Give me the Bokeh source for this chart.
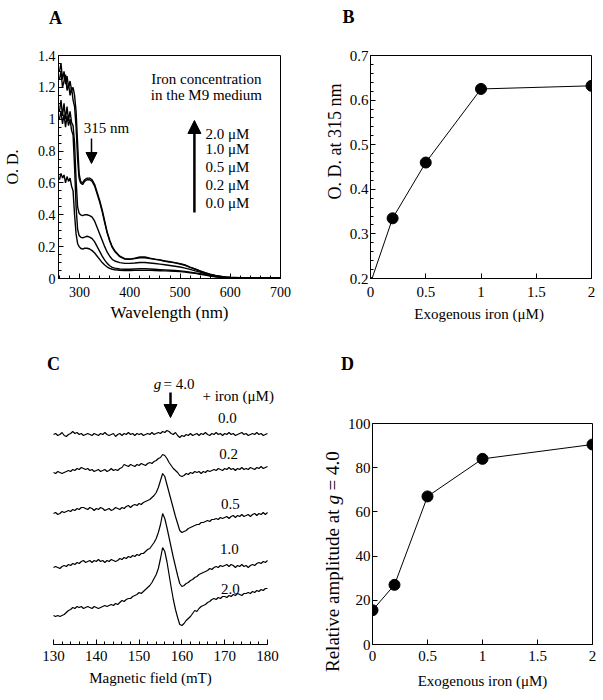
import math
from bokeh.plotting import figure
from bokeh.layouts import row, column
from bokeh.models import Range1d, FixedTicker, CustomJSTickFormatter, Label, Arrow, NormalHead
from bokeh.embed import file_html
from bokeh.resources import INLINE

# ---------------- Panel A: absorption spectra ----------------
WAVELENGTH = [260, 263, 266, 269, 272, 275, 278, 281, 284, 287, 290, 293, 296, 299, 302,
              306, 310,
              315, 320, 325, 330, 335, 340, 345, 350, 355, 360, 365, 370,
              380, 390, 400, 410, 420, 430, 440, 450, 460, 470, 480, 490, 500, 510, 520,
              530, 540, 550, 560, 570, 580, 590, 600,
              620, 640, 660, 680, 700]
OD_2_0 = [1.30, 1.35, 1.25, 1.30, 1.22, 1.27, 1.20, 1.24, 1.18, 1.20, 1.15, 1.05, 0.85, 0.66, 0.61,
          0.60, 0.62,
          0.63, 0.63, 0.62, 0.59, 0.54, 0.49, 0.43, 0.36, 0.29, 0.24, 0.20, 0.175,
          0.14, 0.125, 0.122, 0.128, 0.135, 0.135, 0.128, 0.122, 0.117, 0.11, 0.105, 0.10, 0.093, 0.085, 0.072,
          0.06, 0.048, 0.036, 0.027, 0.02, 0.014, 0.01, 0.008,
          0.005, 0.004, 0.003, 0.003, 0.004]
OD_1_0 = [1.25, 1.30, 1.20, 1.24, 1.28, 1.18, 1.22, 1.15, 1.20, 1.12, 1.08, 0.95, 0.75, 0.63, 0.60,
          0.59, 0.61,
          0.62, 0.62, 0.61, 0.58, 0.53, 0.48, 0.42, 0.35, 0.285, 0.235, 0.195, 0.17,
          0.137, 0.122, 0.12, 0.125, 0.13, 0.13, 0.125, 0.12, 0.115, 0.108, 0.103, 0.098, 0.091, 0.083, 0.07,
          0.058, 0.046, 0.035, 0.026, 0.019, 0.013, 0.01, 0.007,
          0.005, 0.004, 0.003, 0.003, 0.003]
OD_0_5 = [1.05, 1.12, 1.02, 1.10, 1.00, 1.08, 0.99, 1.05, 0.98, 0.96, 0.85, 0.62, 0.45, 0.41, 0.40,
          0.395, 0.40,
          0.40, 0.395, 0.385, 0.36, 0.32, 0.28, 0.24, 0.20, 0.165, 0.14, 0.12, 0.11,
          0.10, 0.095, 0.095, 0.097, 0.10, 0.10, 0.097, 0.094, 0.09, 0.086, 0.082, 0.077, 0.072, 0.065, 0.057,
          0.048, 0.04, 0.03, 0.022, 0.015, 0.01, 0.007, 0.005,
          0.004, 0.003, 0.003, 0.003, 0.003]
OD_0_2 = [1.00, 1.05, 0.97, 1.03, 0.95, 1.02, 0.96, 1.00, 0.93, 0.90, 0.70, 0.45, 0.31, 0.27, 0.26,
          0.255, 0.26,
          0.265, 0.26, 0.25, 0.23, 0.20, 0.17, 0.14, 0.115, 0.095, 0.08, 0.07, 0.065,
          0.06, 0.058, 0.058, 0.06, 0.062, 0.062, 0.06, 0.058, 0.056, 0.054, 0.052, 0.05, 0.048, 0.045, 0.04,
          0.035, 0.03, 0.024, 0.018, 0.012, 0.008, 0.006, 0.005,
          0.004, 0.003, 0.003, 0.003, 0.003]
OD_0_0 = [0.62, 0.66, 0.63, 0.65, 0.60, 0.64, 0.61, 0.63, 0.58, 0.55, 0.40, 0.28, 0.22, 0.20, 0.19,
          0.185, 0.19,
          0.19, 0.185, 0.175, 0.16, 0.14, 0.12, 0.10, 0.085, 0.072, 0.064, 0.058, 0.055,
          0.052, 0.05, 0.05, 0.051, 0.052, 0.052, 0.051, 0.05, 0.049, 0.048, 0.046, 0.045, 0.043, 0.04, 0.036,
          0.032, 0.027, 0.021, 0.015, 0.01, 0.007, 0.005, 0.004,
          0.003, 0.003, 0.003, 0.003, 0.003]
A_SERIES = [OD_0_0, OD_0_2, OD_0_5, OD_1_0, OD_2_0]
A_LEGEND = ["2.0 μM", "1.0 μM", "0.5 μM", "0.2 μM", "0.0 μM"]
A_X_TICKS = [300, 400, 500, 600, 700]
A_X_MINOR = [260, 280, 300, 320, 340, 360, 380, 400, 420, 440, 460, 480, 500, 520, 540, 560, 580,
             600, 620, 640, 660, 680, 700]
A_Y_TICKS = [0, 0.2, 0.4, 0.6, 0.8, 1.0, 1.2, 1.4]
A_Y_MINOR = [0.05, 0.1, 0.15, 0.25, 0.3, 0.35, 0.45, 0.5, 0.55, 0.65, 0.7, 0.75, 0.85, 0.9, 0.95,
             1.05, 1.1, 1.15, 1.25, 1.3, 1.35]

# ---------------- Panel B ----------------
IRON = [0, 0.2, 0.5, 1, 2]
OD_315 = [0.19, 0.335, 0.46, 0.625, 0.632]
B_X_TICKS = [0, 0.5, 1, 1.5, 2]
B_Y_TICKS = [0.2, 0.3, 0.4, 0.5, 0.6, 0.7]
B_Y_MINOR = [0.22, 0.24, 0.26, 0.28, 0.32, 0.34, 0.36, 0.38, 0.42, 0.44, 0.46, 0.48,
             0.52, 0.54, 0.56, 0.58, 0.62, 0.64, 0.66, 0.68]

# ---------------- Panel C: EPR spectra ----------------
FIELD = [130, 130.5, 131, 131.5, 132, 132.5, 133, 133.5, 134, 134.5,
         135, 135.5, 136, 136.5, 137, 137.5, 138, 138.5, 139, 139.5,
         140, 140.5, 141, 141.5, 142, 142.5, 143, 143.5, 144, 144.5,
         145, 145.5, 146, 146.5, 147, 147.5, 148, 148.5, 149, 149.5,
         150, 150.5, 151, 151.5, 152, 152.5, 153, 153.5, 154, 154.5,
         155, 155.5, 156, 156.5, 157, 157.5, 158, 158.5, 159, 159.5,
         160, 160.5, 161, 161.5, 162, 162.5, 163, 163.5, 164, 164.5,
         165, 165.5, 166, 166.5, 167, 167.5, 168, 168.5, 169, 169.5,
         170, 170.5, 171, 171.5, 172, 172.5, 173, 173.5, 174, 174.5,
         175, 175.5, 176, 176.5, 177, 177.5, 178, 178.5, 179, 179.5, 180]
EPR_0_0 = [0, 1, -1, 0, 2, -1, -2, 0, 1, 3,
           1, 2, 0, 1, -1, 0, 1, 0, -1, 1,
           0, -1, 1, 0, 2, 0, -1, 0, 1, -2,
           0, 1, -1, 1, 0, 2, 0, 1, -1, 1,
           0, 1, -1, 0, 1, 0, 2, 0, 1, 2,
           1, 3, 2, 4, 3, 1, 0, 2, -1, -3,
           -1, -2, 0, -1, 1, -1, 0, 1, -1, 1,
           0, 2, 0, -1, 1, 0, 2, 0, 1, -1,
           1, 0, 2, 0, 1, -1, 0, 1, 2, 0,
           1, -1, 0, 1, 0, 2, 0, 1, -1, 0, 1]
EPR_0_2 = [0, -1, 1, 0, -1, 0, 1, 2, 1, 3,
           2, 4, 3, 5, 4, 3, 4, 2, 3, 1,
           2, 3, 1, 2, 3, 1, 2, 4, 2, 3,
           2, 4, 5, 8, 7, 6, 8, 7, 6, 8,
           7, 9, 8, 7, 9, 10, 9, 11, 12, 14,
           15, 18, 17, 14, 10, 7, 4, 2, 0, -3,
           -4, -3, -1, -2, 0, -1, 1, 0, 1, -1,
           1, 0, 2, 1, 2, 3, 2, 4, 3, 2,
           4, 3, 5, 3, 4, 2, 4, 3, 5, 3,
           4, 3, 5, 4, 3, 5, 4, 6, 4, 5, 6]
EPR_0_5 = [0, 1, -1, 0, 2, 1, 2, 3, 2, 4,
           3, 5, 4, 6, 6, 5, 4, 6, 5, 3,
           5, 4, 6, 5, 3, 4, 5, 3, 4, 6,
           5, 4, 6, 5, 7, 8, 6, 8, 9, 8,
           10, 9, 11, 12, 13, 14, 16, 18, 21, 26,
           33, 40, 37, 29, 21, 13, 5, -3, -10, -17,
           -19, -18, -17, -15, -14, -13, -12, -11, -11, -9,
           -9, -8, -7, -8, -6, -6, -5, -6, -4, -5,
           -4, -3, -5, -3, -2, -4, -2, -3, -1, -3,
           -2, -1, -3, -1, 0, -2, 0, -1, 1, -1, 1]
EPR_1_0 = [0, 1, 0, -1, 1, 2, 1, 3, 2, 4,
           3, 5, 4, 6, 7, 5, 6, 7, 5, 7,
           6, 8, 6, 7, 5, 7, 6, 8, 7, 6,
           7, 9, 8, 10, 9, 11, 10, 12, 11, 13,
           12, 14, 14, 16, 18, 19, 22, 25, 29, 35,
           43, 54, 49, 40, 30, 20, 10, 1, -8, -16,
           -19, -18, -16, -15, -13, -12, -10, -9, -7, -6,
           -5, -4, -3, -1, -2, 0, 1, 0, 2, 1,
           2, 3, 1, 3, 2, 0, 2, 1, 3, 1,
           2, 0, 2, 3, 2, 4, 5, 4, 6, 5, 7]
EPR_2_0 = [0, -1, 0, -1, 0, 1, 3, 5, 6, 8,
           7, 9, 8, 9, 7, 8, 9, 8, 7, 9,
           8, 7, 8, 9, 10, 9, 10, 11, 10, 12,
           11, 13, 15, 14, 16, 17, 17, 19, 20, 21,
           23, 22, 24, 26, 28, 30, 33, 37, 41, 47,
           57, 68, 64, 54, 41, 28, 16, 6, -2, -9,
           -10, -8, -5, -3, -1, 2, 5, 4, 7, 9,
           10, 11, 13, 14, 16, 17, 16, 18, 17, 19,
           19, 18, 20, 19, 21, 20, 22, 21, 20, 22,
           22, 23, 22, 24, 23, 25, 24, 26, 25, 27, 27]
EPR_SERIES = [EPR_0_0, EPR_0_2, EPR_0_5, EPR_1_0, EPR_2_0]
EPR_LABELS = ["0.0", "0.2", "0.5", "1.0", "2.0"]
EPR_OFFSETS = [209, 171, 130, 76, 28]
C_X_TICKS = [130, 140, 150, 160, 170, 180]
C_X_MINOR = [130, 132, 134, 136, 138, 140, 142, 144, 146, 148, 150, 152, 154, 156, 158,
             160, 162, 164, 166, 168, 170, 172, 174, 176, 178, 180]

# ---------------- Panel D ----------------
AMPLITUDE = [15.5, 27, 67, 84, 90.5]
D_X_TICKS = [0, 0.5, 1, 1.5, 2]
D_Y_TICKS = [0, 20, 40, 60, 80, 100]

FONT = "Liberation Serif"
FMT_CODE = "return String(Math.round(tick*100)/100);"


def make_fig(w, h, xr, yr, ml, mr, mt, mb, outline=True, xaxis=True, yaxis=True):
    p = figure(width=w, height=h, x_range=Range1d(*xr), y_range=Range1d(*yr),
               output_backend="svg", toolbar_location=None, tools="",
               min_border_left=ml, min_border_right=mr, min_border_top=mt, min_border_bottom=mb,
               x_axis_location="below" if xaxis else None,
               y_axis_location="left" if yaxis else None)
    p.grid.visible = False
    p.background_fill_color = "white"
    p.border_fill_color = "white"
    if outline:
        p.outline_line_color = "black"
        p.outline_line_alpha = 1.0
        p.outline_line_width = 1
    else:
        p.outline_line_color = None
    return p


def text_strip(w, h, xr, yr, mt=0, mb=0):
    # text-only area (no axes); data coordinates equal pixel positions on the page
    return make_fig(w, h, xr, yr, 0, 0, mt, mb, outline=False, xaxis=False, yaxis=False)


def style_axis(ax, ticks, minor, size, label="", label_size="15px", standoff=6, label_standoff=6):
    ax.ticker = FixedTicker(ticks=ticks, minor_ticks=minor)
    ax.formatter = CustomJSTickFormatter(code=FMT_CODE)
    ax.axis_line_color = "black"
    ax.major_tick_in = 5
    ax.major_tick_out = 0
    ax.minor_tick_in = 3
    ax.minor_tick_out = 0
    ax.major_tick_line_color = "black"
    ax.minor_tick_line_color = "black"
    ax.major_label_text_font = FONT
    ax.major_label_text_font_size = size
    ax.major_label_text_color = "black"
    ax.major_label_standoff = standoff
    ax.axis_label = label
    ax.axis_label_text_font = FONT
    ax.axis_label_text_font_size = label_size
    ax.axis_label_text_font_style = "normal"
    ax.axis_label_text_color = "black"
    ax.axis_label_standoff = label_standoff


def add_text(p, x, y, text, size="15px", align="left", style="normal", angle=0.0):
    p.add_layout(Label(x=x, y=y, text=text, text_font=FONT,
                       text_font_size=size, text_font_style=style, text_align=align,
                       text_baseline="middle", text_color="black", angle=angle))


def add_arrow(p, x, y0, y1, width, head):
    p.add_layout(Arrow(end=NormalHead(size=head, fill_color="black", line_color="black", line_width=1),
                       x_start=x, y_start=y0, x_end=x, y_end=y1,
                       line_color="black", line_width=width))


# ---- top strip: panel letters A, B ----
sTop = text_strip(603, 40, (0, 603), (40, 0))
add_text(sTop, 55, 17, "A", "18px", "center", "bold")
add_text(sTop, 348, 16, "B", "18px", "center", "bold")

# ---- Panel A ----
pA = make_fig(300, 290, (258, 700), (0, 1.4), 57, 20, 15, 52)
style_axis(pA.xaxis[0], A_X_TICKS, A_X_MINOR, "14px", "Wavelength (nm)", "17px", 8, 3)
style_axis(pA.yaxis[0], A_Y_TICKS, A_Y_MINOR, "14px", "O. D.", "16px", 3, 14)
for s in A_SERIES:
    pA.line(WAVELENGTH, s, line_color="black", line_width=1.4)
add_text(pA, 552.5, 1.255, "Iron concentration", "15px", "center")
add_text(pA, 552.5, 1.149, "in the M9 medium", "15px", "center")
add_text(pA, 353.5, 0.942, "315 nm", "15px", "center")
for t, ly in zip(A_LEGEND, [0.91, 0.816, 0.697, 0.584, 0.471]):
    add_text(pA, 550.5, ly, t, "15px", "left")
add_arrow(pA, 323.7, 0.879, 0.722, 1.5, 11)
add_arrow(pA, 528.6, 0.414, 0.992, 2.5, 13)

# ---- B y-axis title strip ----
sB = text_strip(46, 290, (300, 346), (278, 55), 15, 52)
add_text(sB, 334, 141, "O. D. at 315 nm", "18px", "center", angle=math.pi / 2)

# ---- Panel B ----
pB = make_fig(257, 290, (0, 2), (0.2, 0.7), 22, 12, 15, 52)
style_axis(pB.xaxis[0], B_X_TICKS, [], "15px", "Exogenous iron  (μM)", "15px", 8, 6)
style_axis(pB.yaxis[0], B_Y_TICKS, B_Y_MINOR, "15px", "", "15px", 2, 6)
pB.line(IRON, OD_315, line_color="black", line_width=1)
pB.scatter(IRON, OD_315, size=11, fill_color="black", line_color="black")

# ---- Panel C (header strip + spectra) ----
sMidL = text_strip(300, 45, (0, 300), (375, 330))
add_text(sMidL, 53, 363, "C", "18px", "center", "bold")

pC = make_fig(300, 325, (117.62, 187.71), (-1, 268), 0, 0, 0, 56, outline=False, yaxis=False)
style_axis(pC.xaxis[0], C_X_TICKS, C_X_MINOR, "15px", "Magnetic field (mT)", "15px", 6, 6)
pC.xaxis[0].bounds = (130, 180)
for s, off in zip(EPR_SERIES, EPR_OFFSETS):
    pC.line(FIELD, [v + off for v in s], line_color="black", line_width=1.2)
add_text(pC, 153.4, 260, "g", "15px", "left", "italic")
add_text(pC, 155.7, 260, "= 4.0", "15px", "left")
add_text(pC, 164.8, 248, "+ iron (μM)", "15px", "left")
for t, lx, ly in zip(EPR_LABELS, [170.65, 170.9, 171.35, 171.1, 171.35], [226, 190, 140, 95, 55]):
    add_text(pC, lx, ly, t, "15px", "center")
add_arrow(pC, 157.34, 251, 226, 2.5, 13)

# ---- Panel D (header strip + y title strip + plot) ----
sMidR = text_strip(303, 45, (300, 603), (375, 330))
add_text(sMidR, 347, 363, "D", "18px", "center", "bold")

sD = text_strip(44, 325, (300, 344), (700, 375))
add_text(sD, 332, 509, "Relative amplitude at", "19px", "right", angle=math.pi / 2)
add_text(sD, 332, 504, "g", "19px", "left", "italic", angle=math.pi / 2)
add_text(sD, 332, 490, "= 4.0", "19px", "left", angle=math.pi / 2)

pD = make_fig(259, 325, (0, 2), (0, 100), 25, 11, 48, 56)
style_axis(pD.xaxis[0], D_X_TICKS, [], "15px", "Exogenous iron (μM)", "15px", 6, 9)
style_axis(pD.yaxis[0], D_Y_TICKS, [], "15px", "", "15px", 2, 6)
pD.line(IRON, AMPLITUDE, line_color="black", line_width=1)
pD.scatter(IRON, AMPLITUDE, size=11, fill_color="black", line_color="black")

layout = column(sTop, row(pA, sB, pB),
                row(column(sMidL, pC), column(sMidR, row(column(sD), pD))))
open("out.html", "w").write(file_html(layout, INLINE))
